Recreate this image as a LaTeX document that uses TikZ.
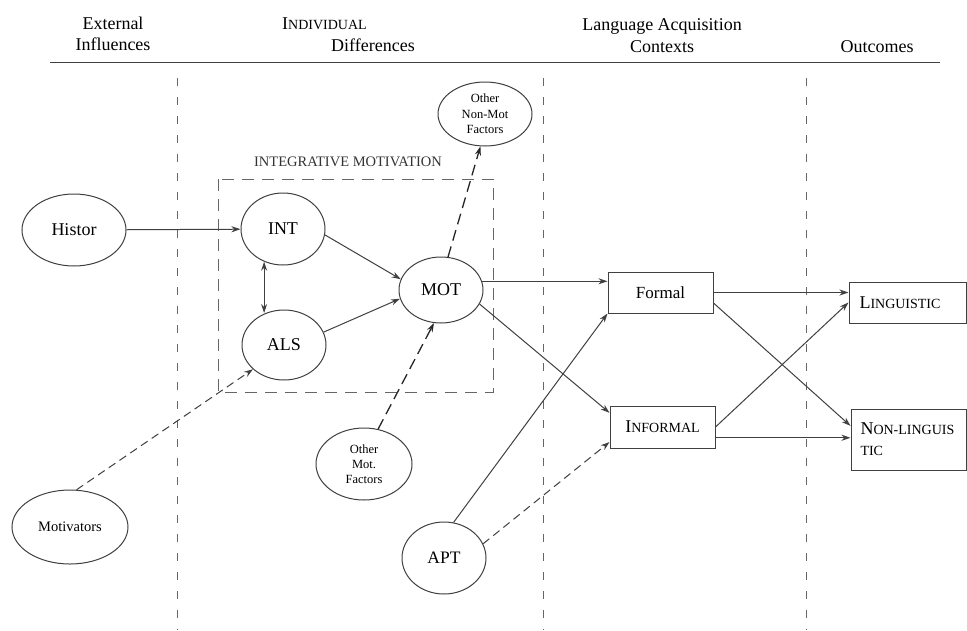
\documentclass[tikz,border=0pt]{standalone}
\usepackage{fontspec}
\setmainfont{Liberation Serif}
\usetikzlibrary{shapes.geometric,arrows.meta,calc}
\begin{document}
\begin{tikzpicture}[x=1pt,y=-1pt,
  ln/.style={line width=1pt, draw=black!75},
  arr/.style={ln, -{Stealth[length=9pt,width=6pt]}},
  darr/.style={arr, dash pattern=on 8pt off 5pt},
  bdarr/.style={arr, line width=1.3pt, draw=black!85, dash pattern=on 11pt off 6pt},
  biarr/.style={ln, {Stealth[length=9pt,width=6pt]}-{Stealth[length=9pt,width=6pt]}},
  ell/.style={ellipse, draw=black!75, line width=1pt, inner sep=0pt, align=center},
  box/.style={rectangle, draw=black!75, line width=1pt, inner sep=0pt},
  sep/.style={draw=black!60, line width=0.8pt, dash pattern=on 8pt off 11pt},
  hdr/.style={font=\fontsize{18}{21}\selectfont, inner sep=0pt, align=center}
]
\useasboundingbox[fill=white] (0,0) rectangle (967,630);

% header
\node[hdr] (h1) at (113,34) {External\\Influences};
\node[hdr, anchor=west] (h2a) at (282,24) {I{\fontsize{14}{16}\selectfont NDIVIDUAL}};
\node[hdr] (h2b) at (373,45) {Differences};
\node[hdr, font=\fontsize{18}{22}\selectfont] (h3) at (662,36) {Language Acquisition\\Contexts};
\node[hdr] (h4) at (877,47) {Outcomes};
\draw[ln] (50,62) -- (940,62);

% separators
\draw[sep] (177,78) -- (177,630);
\draw[sep] (543,78) -- (543,630);
\draw[sep] (806,78) -- (806,630);

% integrative motivation frame
\draw[draw=black!60, line width=0.9pt, dash pattern=on 12pt off 8pt] (218,179) rectangle (493,392);
\node[font=\fontsize{14.5}{17}\selectfont, text=black!80, inner sep=0pt] (intlab) at (348,162) {INTEGRATIVE MOTIVATION};

% ellipses
\node[ell, minimum width=104, minimum height=72, font=\fontsize{18}{21}\selectfont] (Histor) at (74,230) {Histor};
\node[ell, minimum width=84, minimum height=72, font=\fontsize{18}{21}\selectfont] (INT) at (283,229) {INT};
\node[ell, minimum width=84, minimum height=70, font=\fontsize{18}{21}\selectfont] (ALS) at (284,345) {ALS};
\node[ell, minimum width=84, minimum height=66, font=\fontsize{18}{21}\selectfont] (MOT) at (441,290) {MOT};
\node[ell, minimum width=94, minimum height=64, font=\fontsize{12.5}{15.5}\selectfont] (ONM) at (485,114) {Other\\Non-Mot\\Factors};
\node[ell, minimum width=96, minimum height=72, font=\fontsize{12.5}{15}\selectfont] (OMF) at (364,464) {Other\\Mot.\\Factors};
\node[ell, minimum width=116, minimum height=74, font=\fontsize{14.5}{17}\selectfont] (Motivators) at (70,527) {Motivators};
\node[ell, minimum width=84, minimum height=72, font=\fontsize{17.5}{21}\selectfont] (APT) at (444,558) {APT};

% boxes
\node[box, minimum width=105, minimum height=41, font=\fontsize{17}{20}\selectfont] (Formal) at (660.5,292.5) {Formal};
\node[box, minimum width=105, minimum height=42, font=\fontsize{18}{21}\selectfont] (Informal) at (662.5,427) {I{\fontsize{14}{16}\selectfont NFORMAL}};
\node[box, minimum width=117, minimum height=41, text width=96, align=left, font=\fontsize{18}{21}\selectfont] (Ling) at (907.5,302.5) {L{\fontsize{14}{16}\selectfont INGUISTIC}};
\node[box, minimum width=115, minimum height=61, text width=96, align=left, font=\fontsize{18}{21}\selectfont] (Nonling) at (908.5,439.5) {\mbox{N{\fontsize{14}{16}\selectfont ON-LINGUIS}}\\{\fontsize{14}{16}\selectfont TIC}};

% connectors
\draw[arr] (Histor) -- (INT);
\draw[biarr] (INT.240) -- (INT.240 |- ALS.120);
\draw[arr] (INT.-8) -- (MOT.165);
\draw[arr] (ALS.18) -- (MOT.192);
\draw[bdarr] (MOT.78) -- (ONM.262);
\draw[bdarr] (OMF.68) -- (MOT.258);
\draw[darr] (Motivators.80) -- (ALS.218);
\draw[arr] (MOT.12) -- (MOT.12 -| Formal.west);
\draw[arr] (MOT.-20) -- ($(Informal.north west)!0.17!(Informal.south west)$);
\draw[arr] (APT.75) -- (Formal.south west);
\draw[darr] (APT.20) -- ($(Informal.south west)!0.15!(Informal.north west)$);
\draw[arr] (Formal.east) -- (Formal.east -| Ling.west);
\draw[arr] ($(Formal.east)!0.5!(Formal.south east)$) -- ($(Nonling.north west)!0.28!(Nonling.south west)$);
\draw[arr] (Informal.east) -- (Ling.west);
\coordinate (ie) at ($(Informal.east)!0.5!(Informal.south east)$);
\draw[arr] (ie) -- (ie -| Nonling.west);
\end{tikzpicture}
\end{document}
